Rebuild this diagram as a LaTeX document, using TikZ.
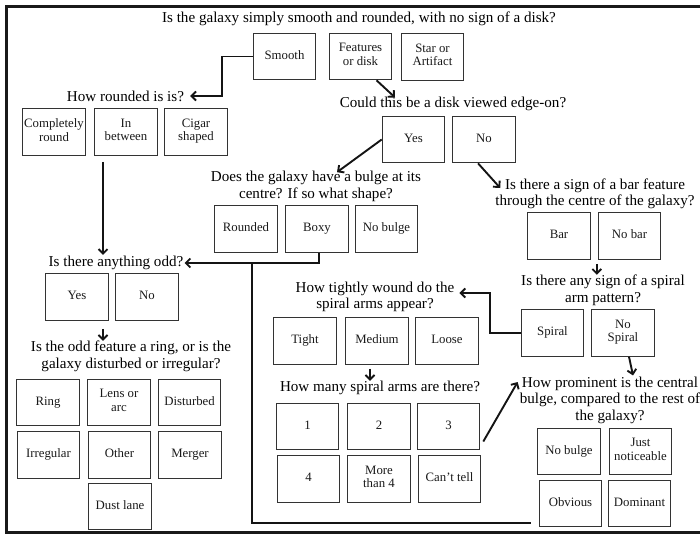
\documentclass[tikz,border=0pt]{standalone}
\usepackage{fontspec}
\setmainfont{Liberation Serif}
\usetikzlibrary{arrows.meta}
\newcommand\qfont{\fontsize{15.1}{16.5}\selectfont}
\newcommand\bfont{\fontsize{12.8}{13.5}\selectfont}
\begin{document}
\begin{tikzpicture}[x=1pt,y=-1pt,
  box/.style={draw=black!80, line width=1.1pt, minimum width=62.5pt, minimum height=46.5pt,
              inner sep=1pt, align=center, font=\bfont, text=black!90,
              execute at begin node=\strut, execute at end node=\strut},
  q/.style={align=center, font=\qfont, inner sep=1pt},
  arr/.style={line width=1.9pt, draw=black!92, -{Straight Barb[length=4.5pt,width=9pt]}},
  conn/.style={line width=1.9pt, draw=black!92}]
\useasboundingbox (0,0) rectangle (700,535);
\draw[line width=2.5pt, draw=black!90] (6.5,6.5) rectangle (714,532.5);

% questions
\node[q] (qtitle)  at (359,19)    {Is the galaxy simply smooth and rounded, with no sign of a disk?};
\node[q] (qround)  at (125.5,96)  {How rounded is is?};
\node[q] (qedge)   at (453,104)   {Could this be a disk viewed edge-on?};
\node[q] (qbulge)  at (316,186.5) {Does the galaxy have a bulge at its\\centre? If so what shape?};
\node[q] (qbar)    at (595,194)   {Is there a sign of a bar feature\\through the centre of the galaxy?};
\node[q] (qodd)    at (116,263)   {Is there anything odd?};
\node[q] (qring)   at (131,356.5) {Is the odd feature a ring, or is the\\galaxy disturbed or irregular?};
\node[q] (qspiral) at (603,290.5) {Is there any sign of a spiral\\arm pattern?};
\node[q] (qtight)  at (375,297)   {How tightly wound do the\\spiral arms appear?};
\node[q] (qarms)   at (380,388)   {How many spiral arms are there?};
\node[q] (qprom)   at (610,400)   {How prominent is the central\\bulge, compared to the rest of\\the galaxy?};

% answer boxes
\node[box] (smooth)    at (284.5,56.5) {Smooth};
\node[box] (features)  at (360.5,56.5) {Features\\or disk};
\node[box] (star)      at (432.5,57)   {Star or\\Artifact};
\node[box] (complete)  at (54,132)     {Completely\\round};
\node[box] (inbetween) at (126,132)    {In\\between};
\node[box] (cigar)     at (196,132)    {Cigar\\shaped};
\node[box] (edgeyes)   at (413.5,139.5){Yes};
\node[box] (edgeno)    at (484,139.5)  {No};
\node[box] (rounded)   at (246,229)    {Rounded};
\node[box] (boxy)      at (317,229)    {Boxy};
\node[box] (nobulge)   at (386.5,229)  {No bulge};
\node[box] (bar)       at (559,236)    {Bar};
\node[box] (nobar)     at (629.5,236)  {No bar};
\node[box] (oddyes)    at (77,297)     {Yes};
\node[box] (oddno)     at (147,297)    {No};
\node[box] (spiral)    at (552.5,333)  {Spiral};
\node[box] (nospiral)  at (623,333)    {No\\Spiral};
\node[box] (tight)     at (305,341)    {Tight};
\node[box] (medium)    at (377,341)    {Medium};
\node[box] (loose)     at (447,341)    {Loose};
\node[box] (ring)      at (48,402.5)   {Ring};
\node[box] (lens)      at (119,402.5)  {Lens or\\arc};
\node[box] (disturbed) at (189.5,402.5){Disturbed};
\node[box] (irregular) at (48.5,455)   {Irregular};
\node[box] (other)     at (119.5,455)  {Other};
\node[box] (merger)    at (190,455)    {Merger};
\node[box] (dust)      at (120,506.5)  {Dust lane};
\node[box] (one)       at (307.5,426.5){1};
\node[box] (two)       at (379,426.5)  {2};
\node[box] (three)     at (448.5,426.5){3};
\node[box] (four)      at (308.5,479)  {4};
\node[box] (morefour)  at (379,479)    {More\\than 4};
\node[box] (canttell)  at (449.5,479)  {Can’t tell};
\node[box] (pnobulge)  at (569,451.5)  {No bulge};
\node[box] (just)      at (640.5,451.5){Just\\noticeable};
\node[box] (obvious)   at (570.5,503.5){Obvious};
\node[box] (dominant)  at (639.5,503.5){Dominant};

% connectors
\draw[arr] (smooth.west) -- ++(-31,0) |- ([xshift=5pt]qround.east);
\draw[arr] ([xshift=16pt]features.south) -- ([xshift=-58pt,yshift=-1.5pt]qedge.north);
\draw[arr] (edgeyes.west) -- ([xshift=21pt,yshift=-2pt]qbulge.north);
\draw[arr] ([xshift=-6pt]edgeno.south) -- ([xshift=6pt,yshift=6pt]qbar.west);
\draw[arr] ([xshift=-23pt,yshift=-6pt]inbetween.south) coordinate (ib) -- (ib |- qodd.north);
\draw[arr] ([xshift=2pt]boxy.south) |- (qodd.east);
\path ([xshift=-65pt]boxy.south) coordinate (bx);
\coordinate (lend) at (531,523);
\draw[conn] (bx |- qodd.east) |- (lend);
\draw[arr] ([xshift=6pt,yshift=-4pt]bar.south east) -- ++(0,11);
\draw[arr] (spiral.west) -- ++(-31,0) |- ([xshift=4pt,yshift=4pt]qtight.east);
\draw[arr] ([xshift=-7pt,yshift=-4pt]medium.south) -- ++(0,12);
\draw[arr] ([xshift=3pt,yshift=-15pt]three.east) -- ([xshift=-1pt,yshift=18pt]qprom.west);
\draw[arr] ([xshift=6pt]nospiral.south) -- ([xshift=23pt]qprom.north);
\draw[arr] ([xshift=26pt,yshift=-8pt]oddyes.south) -- ++(0,12);
\end{tikzpicture}
\end{document}
